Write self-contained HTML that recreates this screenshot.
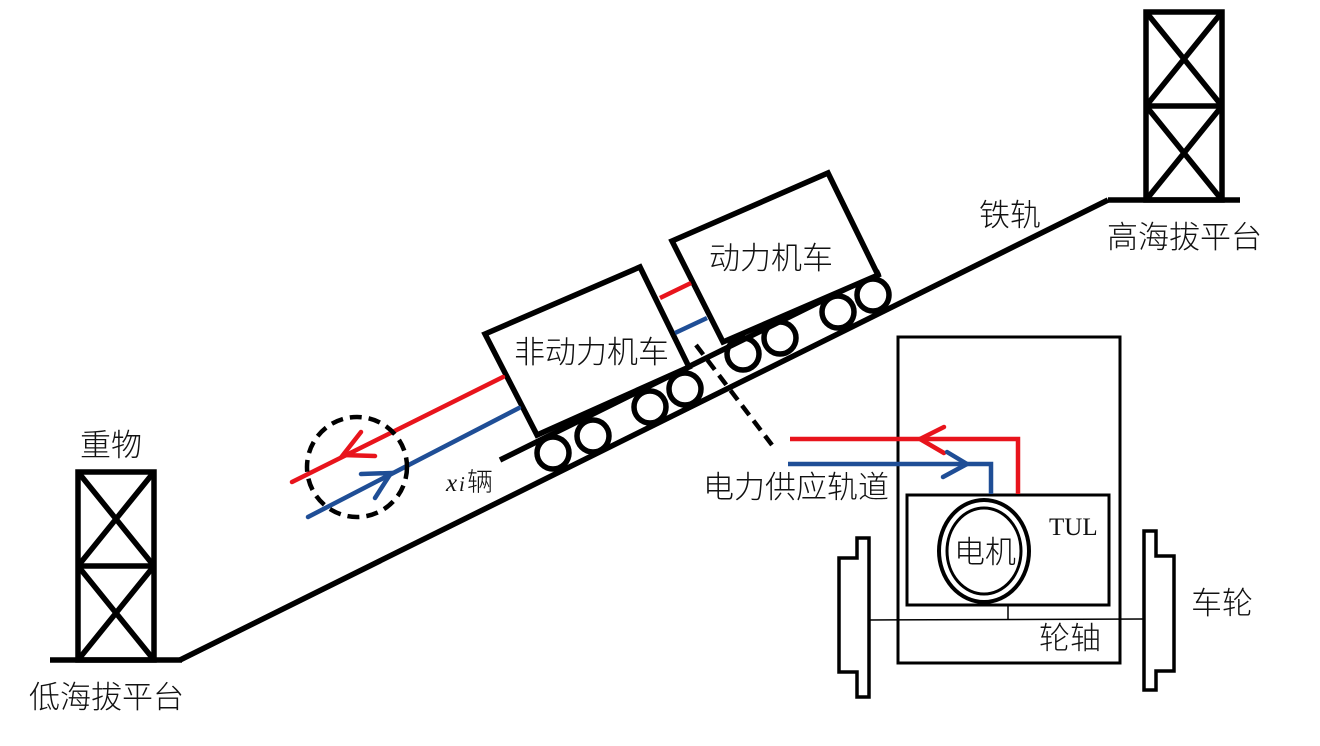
<!DOCTYPE html>
<html><head><meta charset="utf-8"><style>
body{margin:0;background:#fff}
svg text{font-family:"Liberation Serif","Noto Sans CJK SC",serif;fill:#111}
.cn{font-family:"Noto Sans CJK SC","WenQuanYi Zen Hei",sans-serif;font-weight:300}
</style></head><body>
<svg width="1320" height="741" viewBox="0 0 1320 741" xmlns="http://www.w3.org/2000/svg">
<g fill="none" stroke="#000" stroke-width="5.5">
<line x1="50" y1="660" x2="182" y2="660"/>
<rect x="78" y="472" width="76" height="188"/>
<line x1="78" y1="566" x2="154" y2="566"/>
<path d="M78 472L154 566M154 472L78 566M78 566L154 660M154 566L78 660"/>
<line x1="1108" y1="200" x2="1240" y2="200"/>
<rect x="1146" y="12" width="76" height="188"/>
<line x1="1146" y1="106" x2="1222" y2="106"/>
<path d="M1146 12L1222 106M1222 12L1146 106M1146 106L1222 200M1222 106L1146 200"/>
<line x1="180" y1="660" x2="1108" y2="200"/>
<line x1="500" y1="460" x2="880" y2="272"/>
<circle cx="553" cy="453" r="16"/><circle cx="593" cy="436" r="16"/>
<circle cx="650" cy="407" r="16"/><circle cx="685" cy="389" r="16"/>
<circle cx="743" cy="354" r="16"/><circle cx="780" cy="338" r="16"/>
<circle cx="838" cy="312" r="16"/><circle cx="873" cy="295" r="16"/>
<polygon points="485,334 640,267 689,367 537,435" fill="#fff"/>
<polygon points="672,241 828,173 878,275 723,342" fill="#fff"/>
</g>
<g fill="none" stroke-width="4.5" stroke-linecap="round">
<line x1="292" y1="482" x2="503" y2="377" stroke="#e8141c"/>
<line x1="308" y1="517" x2="519" y2="408" stroke="#1f4e96"/>
<path d="M361 432L343 455L375 456" stroke="#e8141c"/>
<path d="M361 474L391 473L375 498" stroke="#1f4e96"/>
<line x1="660" y1="298" x2="691" y2="283" stroke="#e8141c" stroke-linecap="butt"/>
<line x1="675" y1="333" x2="707" y2="318" stroke="#1f4e96" stroke-linecap="butt"/>
</g>
<circle cx="357" cy="467" r="50" fill="none" stroke="#000" stroke-width="4.5" stroke-dasharray="12 7"/>
<line x1="696" y1="345" x2="772" y2="445" stroke="#000" stroke-width="4.5" stroke-dasharray="12 7"/>
<g fill="none" stroke="#000">
<rect x="898" y="337" width="222" height="326" stroke-width="3"/>
<rect x="907" y="495" width="202" height="110" stroke-width="3" fill="#fff"/>
<ellipse cx="984" cy="551" rx="45" ry="51" stroke-width="4"/>
<ellipse cx="984" cy="551" rx="37" ry="43" stroke-width="3"/>
<line x1="869" y1="620" x2="1143" y2="619" stroke-width="1.5"/>
<line x1="1008" y1="606" x2="1008" y2="620" stroke-width="1.5"/>
<path d="M869 538H857V558H839V672H857V697H869Z" stroke-width="3.5"/>
<path d="M1144 531H1156V556H1174V671H1156V690H1144Z" stroke-width="3.5"/>
</g>
<g fill="none" stroke-width="4.5">
<path d="M790 439H1018V494" stroke="#e8141c"/>
<path d="M944 427L920 439L944 453" stroke="#e8141c" stroke-linecap="round"/>
<path d="M788 464H991V494" stroke="#1f4e96"/>
<path d="M947 452L967 464L943 477" stroke="#1f4e96" stroke-linecap="round"/>
</g>
<g class="cn" font-size="31">
<text x="80" y="456" class="cn">重物</text>
<text x="29" y="708" class="cn">低海拔平台</text>
<text x="1107" y="248" class="cn">高海拔平台</text>
<text x="979" y="226" class="cn">铁轨</text>
<text x="514" y="363" class="cn">非动力机车</text>
<text x="709" y="269" class="cn">动力机车</text>
<text x="703" y="498" class="cn">电力供应轨道</text>
<text x="954" y="563" class="cn">电机</text>
<text x="1039" y="649" class="cn">轮轴</text>
<text x="1191" y="614" class="cn">车轮</text>
</g>
<text x="446" y="491" font-size="25" font-style="italic">x</text>
<text x="459" y="491" font-size="21" font-style="italic">i</text>
<text x="467" y="491" font-size="26" class="cn">辆</text>
<text x="1049" y="535" font-size="25">TUL</text>
</svg>
</body></html>
